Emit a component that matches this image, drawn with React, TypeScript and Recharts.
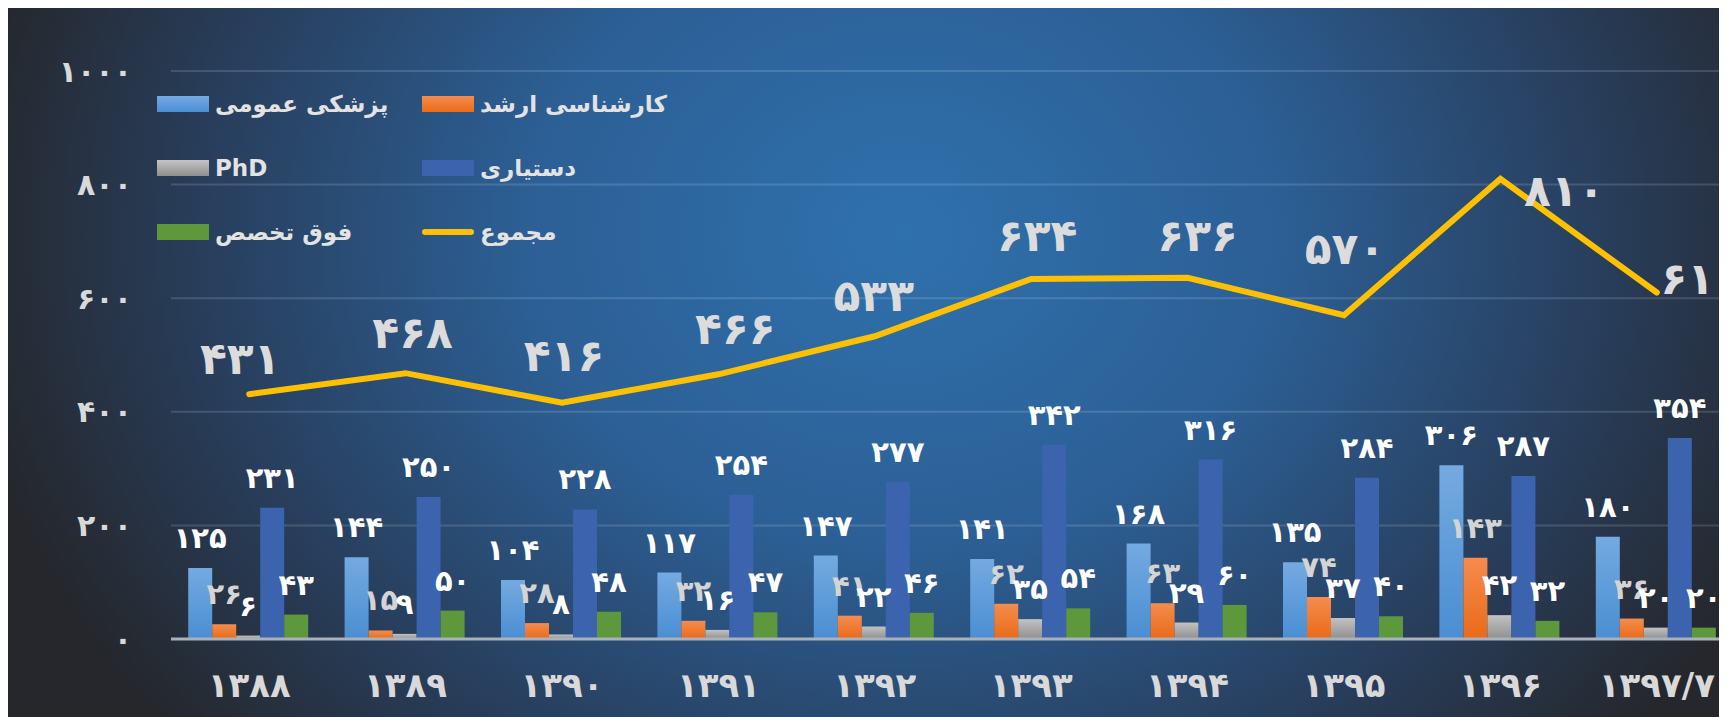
import React from 'react';
import { ComposedChart, Bar, Line, XAxis, YAxis, CartesianGrid, LabelList, Legend } from 'recharts';

const years = ['۱۳۸۸', '۱۳۸۹', '۱۳۹۰', '۱۳۹۱', '۱۳۹۲', '۱۳۹۳', '۱۳۹۴', '۱۳۹۵', '۱۳۹۶', '۱۳۹۷/۷'];
const generalMedicine = [125, 144, 104, 117, 147, 141, 168, 135, 306, 180];
const masters = [26, 15, 28, 32, 41, 62, 63, 74, 143, 36];
const phd = [6, 9, 8, 16, 22, 35, 29, 37, 42, 20];
const residency = [231, 250, 228, 254, 277, 342, 316, 284, 287, 354];
const fellowship = [43, 50, 48, 47, 46, 54, 60, 40, 32, 20];
const totals = [431, 468, 416, 466, 533, 634, 636, 570, 810, 610];
const yTicks = [0, 200, 400, 600, 800, 1000];

// hand-placed total labels (like the original slide)
const totalLabelShift = [
  [-9, -36], [7, -41], [2, -47], [17, -46], [-1, -41],
  [6, -43], [10, -42], [1, -67], [64, 12], [44, -14],
];

const data = years.map((year, i) => ({
  year,
  gp: generalMedicine[i],
  ms: masters[i],
  phd: phd[i],
  res: residency[i],
  fel: fellowship[i],
  total: totals[i],
}));

const fa = (v: any) => String(v).replace(/\d/g, (d) => '۰۱۲۳۴۵۶۷۸۹'[Number(d)]);
const FONT = '"DejaVu Sans", sans-serif';

const legendItems = [
  { name: 'پزشکی عمومی', css: 'linear-gradient(#74aae0, #4b8fd4)' },
  { name: 'کارشناسی ارشد', css: 'linear-gradient(#f58c4e, #ea6c1a)' },
  { name: 'PhD', css: 'linear-gradient(#c4c4c4, #8e8e8e)' },
  { name: 'دستیاری', css: '#3c63ad' },
  { name: 'فوق تخصص', css: '#5e983c' },
  { name: 'مجموع', css: 'line' },
];

const ChartLegend = () => (
  <div style={{ display: 'grid', gridTemplateColumns: '265px 260px', rowGap: 24, fontFamily: FONT }}>
    {legendItems.map((it) => (
      <div key={it.name} style={{ display: 'flex', alignItems: 'center', height: 40 }}>
        {it.css === 'line' ? (
          <div style={{ width: 52, height: 6, borderRadius: 3, background: '#ffc000' }} />
        ) : (
          <div style={{ width: 52, height: 16, background: it.css }} />
        )}
        <span style={{ marginLeft: 6, color: '#e3e3e3', fontWeight: 700, fontSize: 23 }}>{it.name}</span>
      </div>
    ))}
  </div>
);

const TotalLabel = (props: any) => {
  const { x, y, value, index } = props;
  const [dx, dy] = totalLabelShift[index] || [0, -40];
  return (
    <text x={x + dx} y={y + dy} textAnchor="middle" dominantBaseline="central"
      fill="#dcdcdc" fontSize={44} fontWeight={700} fontFamily={FONT}>
      {fa(value)}
    </text>
  );
};

const barLabel = (fill: string) => ({
  position: 'top' as const,
  offset: 20,
  fill,
  fontSize: 29,
  fontWeight: 700,
  fontFamily: FONT,
  formatter: fa,
});

export default function App() {
  return (
    <div style={{ width: 1719, height: 709, overflow: 'hidden', position: 'relative',
      background: 'radial-gradient(ellipse 55% 110% at 52% 32%, #2f71ad 0%, #2c5f95 40%, #283d5a 75%, #25272c 100%)' }}>
      <style>{'body{overflow:hidden}'}</style>
      <ComposedChart width={1727} height={709} data={data}
        margin={{ top: 63, right: 0, bottom: 0, left: 0 }}
        barCategoryGap="11%" barGap={0}>
        <defs>
          <linearGradient id="gGp" x1="0" y1="0" x2="0" y2="1">
            <stop offset="0%" stopColor="#74aae0" />
            <stop offset="100%" stopColor="#4a8ed3" />
          </linearGradient>
          <linearGradient id="gMs" x1="0" y1="0" x2="0" y2="1">
            <stop offset="0%" stopColor="#f58c4e" />
            <stop offset="100%" stopColor="#e96a18" />
          </linearGradient>
          <linearGradient id="gPhd" x1="0" y1="0" x2="0" y2="1">
            <stop offset="0%" stopColor="#c2c2c2" />
            <stop offset="100%" stopColor="#8f8f8f" />
          </linearGradient>
        </defs>
        <CartesianGrid vertical={false} stroke="rgba(255,255,255,0.14)" strokeWidth={2} />
        <XAxis dataKey="year" height={78} tickLine={false}
          axisLine={{ stroke: '#a9b1bb', strokeWidth: 3 }}
          tick={{ fill: '#d9d9d9', fontSize: 34, fontWeight: 700, fontFamily: FONT, dy: 26 }} />
        <YAxis domain={[0, 1000]} ticks={yTicks} width={163} axisLine={false} tickLine={false}
          tickMargin={33} tickFormatter={fa}
          tick={{ fill: '#d9d9d9', fontSize: 30, fontWeight: 700, fontFamily: FONT }} />
        <Legend layout="horizontal" verticalAlign="middle" align="center" content={<ChartLegend />}
          wrapperStyle={{ top: 76, left: 149, width: 560 }} />
        <Bar dataKey="gp" name="پزشکی عمومی" fill="url(#gGp)" isAnimationActive={false}>
          <LabelList dataKey="gp" {...barLabel('#ffffff')} />
        </Bar>
        <Bar dataKey="ms" name="کارشناسی ارشد" fill="url(#gMs)" isAnimationActive={false}>
          <LabelList dataKey="ms" {...barLabel('#d4d4d4')} />
        </Bar>
        <Bar dataKey="phd" name="PhD" fill="url(#gPhd)" isAnimationActive={false}>
          <LabelList dataKey="phd" {...barLabel('#ffffff')} />
        </Bar>
        <Bar dataKey="res" name="دستیاری" fill="#3c63ad" isAnimationActive={false}>
          <LabelList dataKey="res" {...barLabel('#ffffff')} />
        </Bar>
        <Bar dataKey="fel" name="فوق تخصص" fill="#5e983c" isAnimationActive={false}>
          <LabelList dataKey="fel" {...barLabel('#ffffff')} />
        </Bar>
        <Line dataKey="total" name="مجموع" type="linear" stroke="#ffc000" strokeWidth={6}
          strokeLinecap="round" dot={false} activeDot={false} isAnimationActive={false}>
          <LabelList dataKey="total" content={<TotalLabel />} />
        </Line>
      </ComposedChart>
    </div>
  );
}
